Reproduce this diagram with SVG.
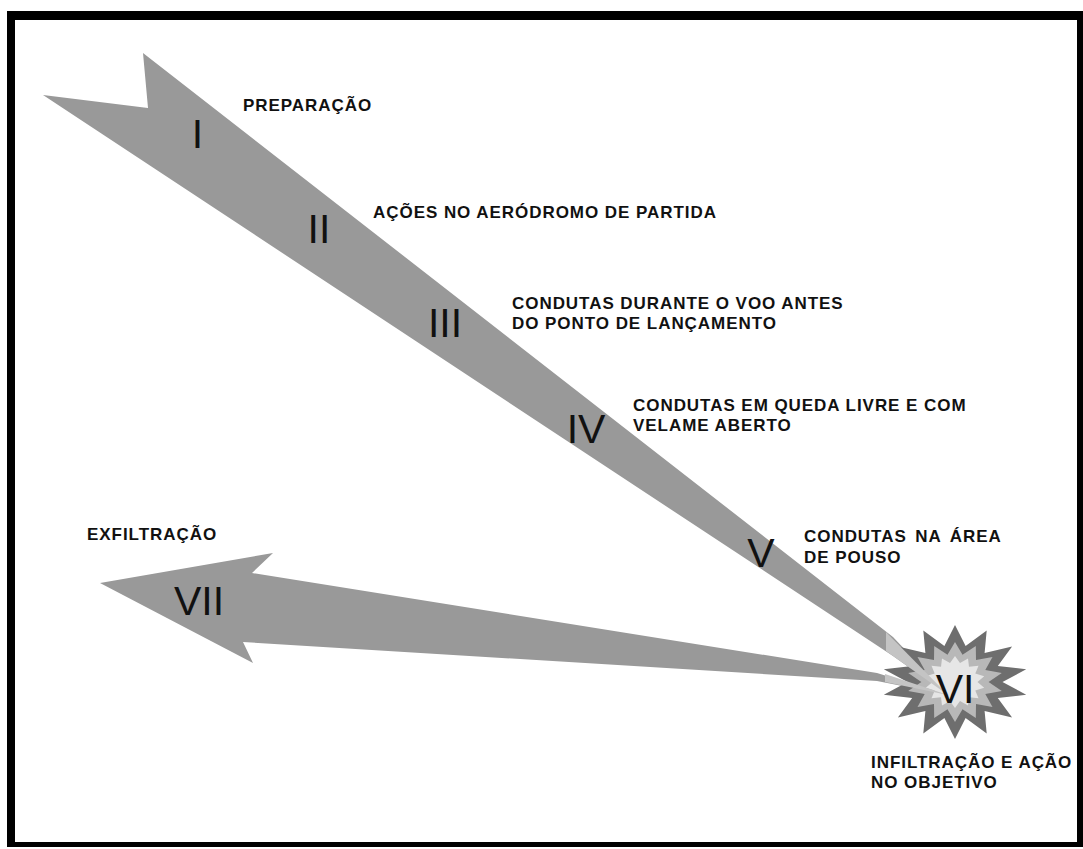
<svg xmlns="http://www.w3.org/2000/svg" width="1083" height="849" viewBox="0 0 1083 849">
<style>
.lbl{font-family:"Liberation Sans",Arial,sans-serif;font-weight:bold;font-size:17px;letter-spacing:0.95px;fill:#111}
.num{font-family:"Liberation Sans",Arial,sans-serif;font-size:41px;fill:#111;text-anchor:middle}
.arrow{fill:#999999}
.streak{fill:#c4c4c4}
</style>
<rect x="0" y="0" width="1083" height="849" fill="#ffffff"/>
<path d="M7 11H1083V847H7Z M15 20V842H1077V20Z" fill="#000" fill-rule="evenodd"/>
<g id="connectors">
  <polygon id="arrow-main" class="arrow" points="43,95 148,108 143,53 893,637 948,695 893,656"/>
  <polygon id="arrow-exfil" class="arrow" points="100,583 273,553 252,573 877,673 948,695 877,681 243,642 253,663"/>
</g>
<g id="burst">
  <polygon fill="#6e6e6e" points="955,625 965.6,645.9 986.7,630.6 984.6,653.1 1012.1,646.5 997.8,665.9 1026.2,669.3 1002.5,682 1026.2,694.7 997.8,698.1 1012.1,717.5 984.6,710.9 986.7,733.4 965.6,718.1 955,739 944.4,718.1 923.3,733.4 925.4,710.9 897.9,717.5 912.2,698.1 883.8,694.7 907.5,682 883.8,669.3 912.2,665.9 897.9,646.5 925.4,653.1 923.3,630.6 944.4,645.9"/>
  <polygon fill="#b8b8b8" points="955,642 962.5,654.7 975.8,646 976,660.1 992.5,657.1 985.3,669.9 1001.8,673.1 988.6,682 1001.8,690.9 985.3,694.1 992.5,706.9 976,703.9 975.8,718 962.5,709.3 955,722 947.5,709.3 934.2,718 934,703.9 917.5,706.9 924.7,694.1 908.2,690.9 921.4,682 908.2,673.1 924.7,669.9 917.5,657.1 934,660.1 934.2,646 947.5,654.7"/>
  <polygon fill="#e6e6e6" points="955,656 960,663 968,658.6 969,666.8 978.5,665.8 975.3,673.5 984.2,676.2 977.5,682 984.2,687.8 975.3,690.5 978.5,698.2 969,697.2 968,705.4 960,701 955,708 950,701 942,705.4 941,697.2 931.5,698.2 934.7,690.5 925.8,687.8 932.5,682 925.8,676.2 934.7,673.5 931.5,665.8 941,666.8 942,658.6 950,663"/>
  <polygon class="streak" points="886,632 948,695 886,651"/>
  <polygon class="streak" points="885,674 948,695 885,682"/>
</g>
<g id="phase-1">
  <text class="num" x="197.5" y="148">I</text>
  <text class="lbl" x="243" y="111">PREPARAÇÃO</text>
</g>
<g id="phase-2">
  <text class="num" x="319" y="243">II</text>
  <text class="lbl" x="373" y="218">AÇÕES NO AERÓDROMO DE PARTIDA</text>
</g>
<g id="phase-3">
  <text class="num" x="445" y="337">III</text>
  <text class="lbl" x="512" y="309">CONDUTAS DURANTE O VOO ANTES</text>
  <text class="lbl" x="512" y="329">DO PONTO DE LANÇAMENTO</text>
</g>
<g id="phase-4">
  <text class="num" x="586" y="443">IV</text>
  <text class="lbl" x="633" y="411">CONDUTAS EM QUEDA LIVRE E COM</text>
  <text class="lbl" x="633" y="431">VELAME ABERTO</text>
</g>
<g id="phase-5">
  <text class="num" x="761" y="567">V</text>
  <text class="lbl" x="804" y="542" word-spacing="3">CONDUTAS NA ÁREA</text>
  <text class="lbl" x="804" y="563">DE POUSO</text>
</g>
<g id="phase-6">
  <text class="num" x="955" y="703">VI</text>
  <text class="lbl" x="871" y="768">INFILTRAÇÃO E AÇÃO</text>
  <text class="lbl" x="871" y="788">NO OBJETIVO</text>
</g>
<g id="phase-7">
  <text class="num" x="199" y="615">VII</text>
  <text class="lbl" x="87" y="540">EXFILTRAÇÃO</text>
</g>
</svg>
